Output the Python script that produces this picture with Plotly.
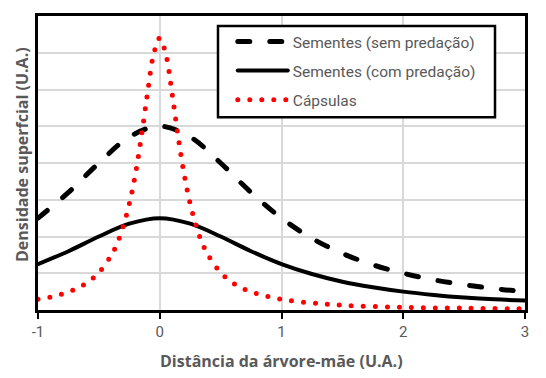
import plotly.graph_objects as go

# Data (arbitrary units)
x_seeds = [-1, -0.75, -0.5, -0.25, 0, 0.25, 0.5, 0.75, 1, 1.25, 1.5, 1.75, 2, 2.25, 2.5, 2.75, 3]
y_sem = [2.5, 3.2, 4.0, 4.71, 5.0, 4.71, 4.0, 3.2, 2.5, 1.95, 1.54, 1.23, 1.0, 0.82, 0.69, 0.58, 0.5]
y_com = [1.25, 1.6, 2.0, 2.35, 2.5, 2.35, 2.0, 1.6, 1.25, 0.98, 0.77, 0.62, 0.5, 0.41, 0.34, 0.29, 0.26]

x_caps = [-1, -0.9, -0.8, -0.7, -0.6, -0.5, -0.4, -0.35, -0.3, -0.25, -0.2, -0.15, -0.1, -0.05, 0,
          0.05, 0.1, 0.15, 0.2, 0.25, 0.3, 0.35, 0.4, 0.5, 0.6, 0.7, 0.8, 1.0, 1.25, 1.5, 2.0, 2.5, 3.0]
y_caps = [0.29, 0.35, 0.44, 0.56, 0.74, 1.02, 1.48, 1.81, 2.28, 2.89, 3.7, 4.74, 5.92, 6.96, 7.4,
          6.96, 5.92, 4.74, 3.7, 2.89, 2.28, 1.81, 1.48, 1.02, 0.74, 0.56, 0.44, 0.29, 0.19, 0.13, 0.07, 0.05, 0.03]

names = ["Sementes (sem predação)", "Sementes (com predação)", "Cápsulas"]
x_ticks = [-1, 0, 1, 2, 3]
x_title = "Distância da árvore-mãe (U.A.)"
y_title = "Densidade superfcial (U.A.)"

FONT = "Roboto"
TFONT = "Open Sans"
GRAY = "#595959"

fig = go.Figure()
fig.add_trace(go.Scatter(x=x_seeds, y=y_sem, mode="lines", name=names[0], legend="legend",
                         line=dict(color="black", width=5, dash="12px,20px", shape="spline")))
fig.add_trace(go.Scatter(x=x_seeds, y=y_com, mode="lines", name=names[1], legend="legend2",
                         line=dict(color="black", width=4, shape="spline")))
fig.add_trace(go.Scatter(x=x_caps, y=y_caps, mode="lines", name=names[2], legend="legend3",
                         line=dict(color="#ff0000", width=5, dash="0px,12px", shape="spline")))

leg_common = dict(xanchor="left", yanchor="middle", bgcolor="rgba(0,0,0,0)", borderwidth=0,
                  font=dict(family=FONT, size=15.5, color=GRAY), itemwidth=50)
fig.update_layout(
    width=546, height=378,
    margin=dict(l=38, r=21, t=16, b=68),
    paper_bgcolor="white", plot_bgcolor="white",
    font=dict(family=FONT, color=GRAY),
    showlegend=True,
    legend=dict(x=0.400, y=0.9116, **leg_common),
    legend2=dict(x=0.400, y=0.813, **leg_common),
    legend3=dict(x=0.400, y=0.714, **leg_common),
    shapes=[dict(type="rect", xref="paper", yref="paper", x0=0.3696, x1=0.9384, y0=0.656, y1=0.966,
                 line=dict(color="black", width=2.5), fillcolor="white", layer="above")],
    annotations=[
        dict(text="<b>" + x_title + "</b>", xref="paper", yref="paper", x=0.499, y=-0.1735,
             xanchor="center", yanchor="middle", showarrow=False,
             font=dict(family=TFONT, size=16, color=GRAY)),
        dict(text="<b>" + y_title + "</b>", xref="paper", yref="paper", x=-0.0329, y=0.5306,
             xanchor="center", yanchor="middle", showarrow=False, textangle=-90,
             font=dict(family=TFONT, size=16, color=GRAY)),
    ],
)
fig.update_xaxes(range=[-1, 3], tickvals=x_ticks, ticktext=[str(v) for v in x_ticks],
                 automargin=False,
                 showgrid=True, gridcolor="#d9d9d9", gridwidth=2,
                 showline=True, linecolor="black", linewidth=3, mirror=True,
                 ticks="outside", ticklen=6, tickwidth=2, tickcolor="black",
                 tickfont=dict(family=FONT, size=15, color=GRAY), zeroline=False)
fig.update_yaxes(range=[0, 8], dtick=1, showticklabels=False, automargin=False,
                 showgrid=True, gridcolor="#d9d9d9", gridwidth=2,
                 showline=True, linecolor="black", linewidth=3, mirror=True,
                 zeroline=False)

post = ("document.body.style.margin='0';"
        "document.querySelectorAll('path.js-line').forEach(function(p){p.style.strokeLinecap='round';});")
fig.write_html("out.html", post_script=post, config={"displayModeBar": False})
